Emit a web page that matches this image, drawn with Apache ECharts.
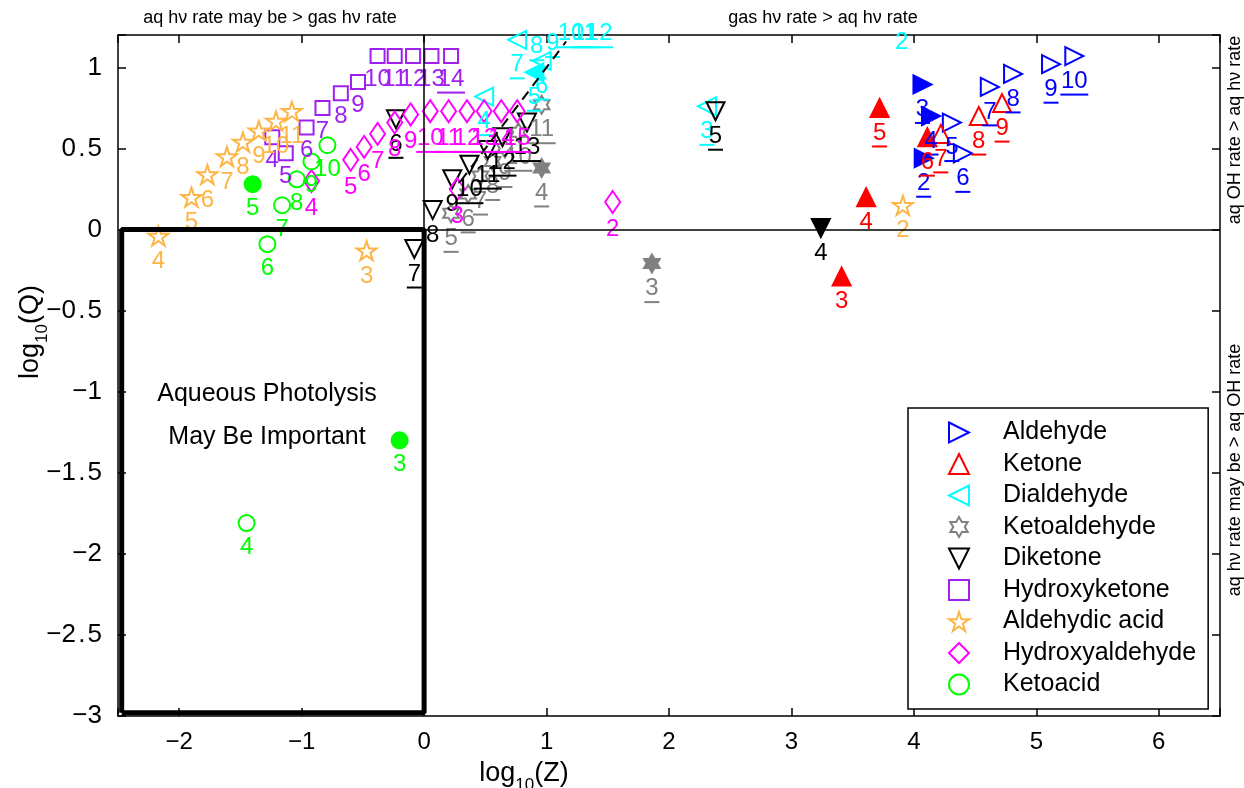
<!DOCTYPE html>
<html>
<head>
<meta charset="utf-8">
<script src="https://cdn.jsdelivr.net/npm/echarts@6/dist/echarts.min.js"></script>
<style>
html,body{margin:0;padding:0;background:#fff;}
#chart{width:1244px;height:788px;}
</style>
</head>
<body>
<div id="chart"></div>
<script>
// rows: [compound number, log10(Z), log10(Q)]
var aldehyde = [[2,4.08,0.44],[3,4.07,0.895],[4,4.14,0.70],[5,4.31,0.66],[6,4.40,0.47],[7,4.62,0.88],[8,4.81,0.96],[9,5.12,1.02],[10,5.31,1.07]];
var aldehydeFilled = [2,3,4];
var aldehydeUnder = [2,3,4,5,6,7,8,9,10];

var ketone = [[3,3.41,-0.29],[4,3.61,0.20],[5,3.72,0.75],[6,4.11,0.57],[7,4.22,0.59],[8,4.53,0.70],[9,4.72,0.78]];
var ketoneFilled = [3,4,5,6];
var ketoneUnder = [5,6,7,8,9];

var dialdehyde = [[2,3.90,1.25],[3,2.31,0.76],[4,0.49,0.82],[5,0.90,0.97],[6,0.96,1.04],[7,0.76,1.17],[8,0.92,1.22],[9,1.05,1.24],[10,1.20,1.30],[11,1.31,1.30],[12,1.43,1.30]];
var dialdehydeFilled = [5];
var dialdehydeUnder = [3,4,5,6,7,8,9,10,11,12];

var ketoaldehyde = [[3,1.86,-0.21],[4,0.96,0.38],[5,0.22,0.10],[6,0.36,0.22],[7,0.46,0.33],[8,0.56,0.42],[9,0.66,0.50],[10,0.77,0.60],[11,0.96,0.77]];
var ketoaldehydeFilled = [3,4];
var ketoaldehydeUnder = [3,4,5,6,7,8,9,10,11];

var diketone = [[4,3.24,0.01],[5,2.38,0.73],[6,-0.23,0.68],[7,-0.08,-0.12],[8,0.07,0.12],[9,0.23,0.31],[10,0.37,0.40],[11,0.52,0.49],[12,0.64,0.57],[13,0.84,0.66]];
var diketoneFilled = [4];
var diketoneUnder = [5,6,7,10,11,12,13];

var hydroxyketone = [[4,-1.24,0.57],[5,-1.13,0.47],[6,-0.96,0.63],[7,-0.83,0.75],[8,-0.68,0.84],[9,-0.54,0.91],[10,-0.38,1.07],[11,-0.24,1.07],[12,-0.09,1.07],[13,0.06,1.07],[14,0.22,1.07]];
var hydroxyketoneFilled = [];
var hydroxyketoneUnder = [14];

var aldehydicAcid = [[2,3.91,0.15],[3,-0.47,-0.13],[4,-2.17,-0.04],[5,-1.90,0.20],[6,-1.77,0.34],[7,-1.61,0.45],[8,-1.48,0.54],[9,-1.35,0.61],[10,-1.21,0.67],[11,-1.08,0.73]];
var aldehydicAcidFilled = [];
var aldehydicAcidUnder = [];

var hydroxyaldehyde = [[2,1.54,0.17],[3,0.27,0.25],[4,-0.92,0.30],[5,-0.60,0.43],[6,-0.49,0.51],[7,-0.38,0.59],[8,-0.24,0.66],[9,-0.11,0.71],[10,0.05,0.73],[11,0.20,0.73],[12,0.35,0.73],[13,0.49,0.73],[14,0.63,0.73],[15,0.76,0.73]];
var hydroxyaldehydeFilled = [];
var hydroxyaldehydeUnder = [10,11,12,13,14,15];

var ketoacid = [[3,-0.20,-1.30],[4,-1.45,-1.81],[5,-1.40,0.28],[6,-1.28,-0.09],[7,-1.16,0.15],[8,-1.04,0.31],[9,-0.92,0.42],[10,-0.79,0.52]];
var ketoacidFilled = [3,5];
var ketoacidUnder = [];

// axis ranges and reference lines
var zRange = [-2.5, 6.5];
var qRange = [-3, 1.2];
var boxZ = [-2.47, 0];      // "aqueous photolysis may be important" region
var boxQ = [-2.98, 0];
var oneToOne = [0.3, 1.16]; // dashed Q = Z line

var FONT = 'Liberation Sans, Arial, Helvetica, sans-serif';

var triRight = 'path://M0,0L10,5L0,10Z';
var triLeft = 'path://M10,0L0,5L10,10Z';
var triDown = 'path://M0,0L10,0L5,10Z';
var star5 = 'path://M50,0L61.2,34.6L97.6,34.5L68.1,55.9L79.4,90.5L50,69L20.6,90.5L31.9,55.9L2.4,34.5L38.8,34.6Z';
var hexagram = 'path://M50,0L64.4,25L93.3,25L78.9,50L93.3,75L64.4,75L50,100L35.6,75L6.7,75L21.1,50L6.7,25L35.6,25Z';

function makeSeries(name, rows, filled, under, color, symbol, size){
	return {
		name: name,
		type: 'scatter',
		symbol: symbol,
		symbolSize: size,
		symbolKeepAspect: true,
		clip: false,
		emphasis: {disabled: true},
		itemStyle: {color: 'rgba(255,255,255,0)', borderColor: color, borderWidth: 2, opacity: 1},
		label: {
			show: true,
			position: 'bottom',
			distance: 3,
			formatter: function(p){
				var s = '{n|' + p.name + '}';
				if (under.indexOf(+p.name) >= 0) s += '\n{u' + p.name.length + '| }';
				return s;
			},
			rich: {
				n: {fontSize: 24, lineHeight: 24, color: color, fontFamily: FONT},
				u1: {width: 15, height: 2, lineHeight: 3, fontSize: 2, backgroundColor: color},
				u2: {width: 28, height: 2, lineHeight: 3, fontSize: 2, backgroundColor: color}
			}
		},
		data: rows.map(function(r){
			var item = {name: String(r[0]), value: [r[1], r[2]]};
			if (filled.indexOf(r[0]) >= 0) item.itemStyle = {color: color};
			if (r[2] > qRange[1]) item.symbolSize = 0;
			return item;
		})
	};
}

var names = ['Aldehyde','Ketone','Dialdehyde','Ketoaldehyde','Diketone','Hydroxyketone','Aldehydic acid','Hydroxyaldehyde','Ketoacid'];

var series = [
	{
		type: 'line', silent: true, symbol: 'none', clip: false,
		data: [[boxZ[0],boxQ[0]],[boxZ[1],boxQ[0]],[boxZ[1],boxQ[1]],[boxZ[0],boxQ[1]],[boxZ[0],boxQ[0]]],
		lineStyle: {color: '#000', width: 5},
		markLine: {
			silent: true, symbol: 'none', label: {show: false},
			lineStyle: {color: '#000', width: 1.5, type: 'solid'},
			data: [
				[{coord: [0, 0]}, {coord: [zRange[1], 0]}],
				[{coord: [0, 0]}, {coord: [0, qRange[1]]}]
			]
		}
	},
	{
		type: 'line', silent: true, symbol: 'none',
		data: [[oneToOne[0],oneToOne[0]],[oneToOne[1],oneToOne[1]]],
		lineStyle: {color: '#000', width: 2, type: [10, 7]}
	},
	makeSeries('Aldehyde', aldehyde, aldehydeFilled, aldehydeUnder, '#0000ff', triRight, 18),
	makeSeries('Ketone', ketone, ketoneFilled, ketoneUnder, '#ff0000', 'triangle', 18),
	makeSeries('Dialdehyde', dialdehyde, dialdehydeFilled, dialdehydeUnder, '#00ffff', triLeft, 18),
	makeSeries('Ketoaldehyde', ketoaldehyde, ketoaldehydeFilled, ketoaldehydeUnder, '#808080', hexagram, 18),
	makeSeries('Diketone', diketone, diketoneFilled, diketoneUnder, '#000000', triDown, 18),
	makeSeries('Hydroxyketone', hydroxyketone, hydroxyketoneFilled, hydroxyketoneUnder, '#a020f0', 'rect', 14),
	makeSeries('Aldehydic acid', aldehydicAcid, aldehydicAcidFilled, aldehydicAcidUnder, '#ffb545', star5, 20),
	makeSeries('Hydroxyaldehyde', hydroxyaldehyde, hydroxyaldehydeFilled, hydroxyaldehydeUnder, '#ff00ff', 'diamond', [15, 22]),
	makeSeries('Ketoacid', ketoacid, ketoacidFilled, ketoacidUnder, '#00ff00', 'circle', 16)
];

function axisBase(){
	return {
		type: 'value',
		axisLine: {show: true, onZero: false, lineStyle: {color: '#000', width: 1.5}},
		axisTick: {show: true, inside: true, length: 8, lineStyle: {color: '#000', width: 1.5}},
		splitLine: {show: false}
	};
}
function fmtMinus(v){ return String(v).replace('-', '\u2212').replace('.', '\u200a.\u200a'); }

var xBottom = axisBase();
xBottom.min = zRange[0]; xBottom.max = zRange[1]; xBottom.splitNumber = 9; xBottom.position = 'bottom';
xBottom.axisLabel = {fontSize: 24, color: '#000', fontFamily: FONT, margin: 14,
	formatter: function(v){ return Math.abs(v - Math.round(v)) < 1e-6 ? fmtMinus(v) : ''; }};
var xTop = axisBase();
xTop.min = zRange[0]; xTop.max = zRange[1]; xTop.splitNumber = 9; xTop.position = 'top';
xTop.axisLabel = {show: false};

var yLeft = axisBase();
yLeft.min = qRange[0]; yLeft.max = qRange[1]; yLeft.interval = 0.5; yLeft.position = 'left';
yLeft.axisLabel = {fontSize: 26, color: '#000', fontFamily: FONT, margin: 16,
	formatter: function(v){ return Math.abs(v * 2 - Math.round(v * 2)) < 1e-6 ? fmtMinus(v) : ''; }};
var yRight = axisBase();
yRight.min = qRange[0]; yRight.max = qRange[1]; yRight.interval = 0.5; yRight.position = 'right';
yRight.axisLabel = {show: false};

function txt(x, y, text, size, rot){
	return {
		type: 'text', x: x, y: y, rotation: rot || 0, silent: true,
		style: {text: text, fill: '#000', font: size + 'px ' + FONT, textAlign: 'center', textVerticalAlign: 'middle', align: 'center', verticalAlign: 'middle'}
	};
}
function subTitle(x, y, a, rot){
	return {
		type: 'text', x: x, y: y, rotation: rot || 0, silent: true,
		style: {
			text: '{a|log}{s|10}{a|(' + a + ')}',
			fill: '#000', textAlign: 'center', textVerticalAlign: 'middle', align: 'center', verticalAlign: 'middle',
			rich: {
				a: {fontSize: 27, fontFamily: FONT, lineHeight: 32, verticalAlign: 'bottom'},
				s: {fontSize: 17, fontFamily: FONT, lineHeight: 32, verticalAlign: 'bottom', padding: [0, 0, -7, 0]}
			}
		}
	};
}

var option = {
	backgroundColor: '#fff',
	animation: false,
	grid: {left: 118, right: 24, top: 35, bottom: 72, containLabel: false},
	xAxis: [xBottom, xTop],
	yAxis: [yLeft, yRight],
	legend: {
		data: names,
		orient: 'vertical',
		left: 908, top: 408,
		padding: [12, 12, 12, 40],
		itemWidth: 20, itemHeight: 20,
		itemGap: 6.5,
		backgroundColor: '#fff',
		borderColor: '#000', borderWidth: 1.5,
		selectedMode: false,
		itemStyle: {opacity: 1},
		textStyle: {fontSize: 25, lineHeight: 25, color: '#000', fontFamily: FONT, padding: [0, 0, 0, 29]}
	},
	graphic: [
		txt(270, 18, 'aq h\u03bd rate may be > gas h\u03bd rate', 18),
		txt(823, 18, 'gas h\u03bd rate > aq h\u03bd rate', 18),
		txt(1235, 130, 'aq OH rate > aq h\u03bd rate', 18, Math.PI / 2),
		txt(1235, 470, 'aq h\u03bd rate may be > aq OH rate', 18, Math.PI / 2),
		txt(267, 394, 'Aqueous Photolysis', 25),
		txt(267, 437, 'May Be Important', 25),
		subTitle(524, 771, 'Z'),
		subTitle(28, 332, 'Q', Math.PI / 2)
	],
	series: series
};

var myChart = echarts.init(document.getElementById('chart'));
myChart.setOption(option);
</script>
</body>
</html>
